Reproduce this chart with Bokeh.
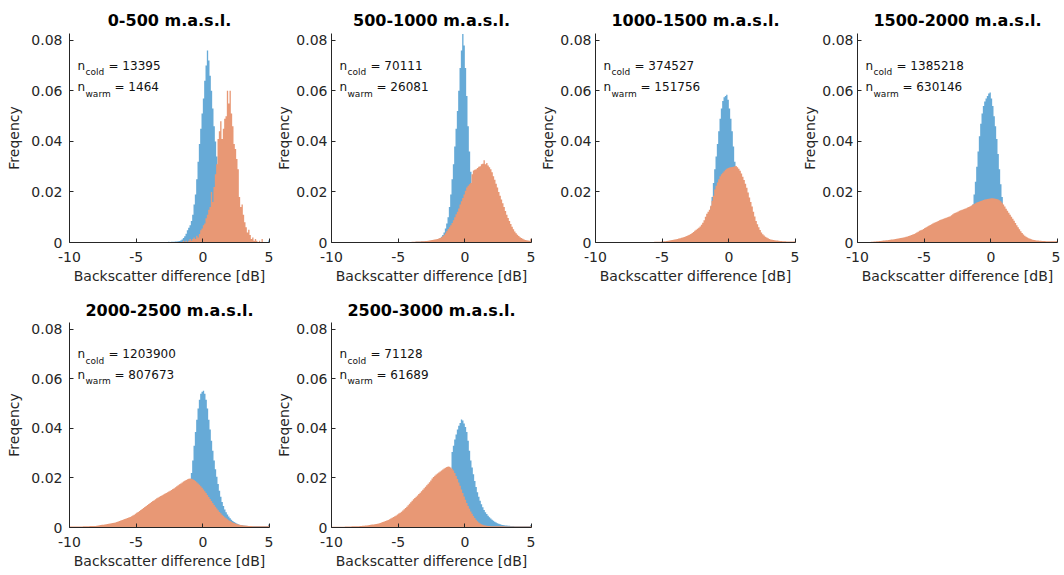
from bokeh.plotting import figure
from bokeh.layouts import column, row
from bokeh.models import FixedTicker, Range1d, CustomJSTickFormatter
from bokeh.core.properties import value
from bokeh.embed import file_html
from bokeh.resources import INLINE

# ---------------- data ----------------
BIN_WIDTH = 0.1
TITLES = ["0-500 m.a.s.l.", "500-1000 m.a.s.l.", "1000-1500 m.a.s.l.",
          "1500-2000 m.a.s.l.", "2000-2500 m.a.s.l.", "2500-3000 m.a.s.l."]
N_COLD = [13395, 70111, 374527, 1385218, 1203900, 71128]
N_WARM = [1464, 26081, 151756, 630146, 807673, 61689]
X_TICKS = [-10, -5, 0, 5]
Y_TICKS = [0, 0.02, 0.04, 0.06, 0.08]
X_LABEL = "Backscatter difference [dB]"
Y_LABEL = "Freqency"

# panel 1 (0-500)
COLD_1_START = -3.0
COLD_1 = [0.0002, 0.0002, 0.0002, 0.0002, 0.0003, 0.0002, 0.0003, 0.0003, 0.0003, 0.0004,
          0.0004, 0.0005, 0.0006, 0.0008, 0.0012, 0.0018, 0.0025, 0.0035, 0.0048, 0.0058,
          0.0068, 0.0085, 0.011, 0.015, 0.019, 0.025, 0.032, 0.039, 0.045, 0.051,
          0.057, 0.064, 0.070, 0.076, 0.072, 0.066, 0.060, 0.053, 0.046, 0.040,
          0.034, 0.028, 0.022, 0.017, 0.013, 0.010, 0.007, 0.005, 0.004, 0.003,
          0.002, 0.0015, 0.001, 0.0008, 0.0006, 0.0004, 0.0003, 0.0003, 0.0002, 0.0002,
          0.0002, 0.0002, 0.0002, 0.0002, 0.0002, 0.0002, 0.0002, 0.0002, 0.0002, 0.0002,
          0.0002, 0.0002, 0.0002, 0.0002, 0.0002, 0.0002, 0.0002, 0.0002, 0.0002, 0.0008]
WARM_1_START = -1.5
WARM_1 = [0.0007, 0.0, 0.0007, 0.0, 0.0007, 0.0014, 0.0007, 0.0014, 0.002, 0.0014,
          0.0027, 0.002, 0.0034, 0.0048, 0.0055, 0.0068, 0.0075, 0.0096, 0.011, 0.013,
          0.014, 0.020, 0.016, 0.022, 0.027, 0.031, 0.041, 0.044, 0.048, 0.041,
          0.045, 0.049, 0.050, 0.060, 0.055, 0.060, 0.051, 0.046, 0.039, 0.037,
          0.033, 0.029, 0.018, 0.014, 0.015, 0.011, 0.008, 0.006, 0.004, 0.005,
          0.003, 0.0014, 0.002, 0.0007, 0.0014, 0.0007, 0.0, 0.0007, 0.0, 0.0014,
          0.0]

# panel 2 (500-1000)
COLD_2_START = -4.0
COLD_2 = [0.0002, 0.0002, 0.0002, 0.0003, 0.0003, 0.0003, 0.0003, 0.0004, 0.0004, 0.0004,
          0.0004, 0.0004, 0.0005, 0.0005, 0.0005, 0.0005, 0.0006, 0.0007, 0.0009, 0.0011,
          0.0014, 0.0018, 0.0023, 0.003, 0.004, 0.0055, 0.0075, 0.010, 0.014, 0.019,
          0.025, 0.031, 0.038, 0.045, 0.052, 0.060, 0.069, 0.076, 0.0825, 0.078,
          0.069, 0.058, 0.046, 0.036, 0.028, 0.021, 0.016, 0.012, 0.009, 0.007,
          0.005, 0.004, 0.003, 0.0024, 0.0018, 0.0014, 0.0011, 0.0009, 0.0007, 0.0005,
          0.0004, 0.0003, 0.0003, 0.0002, 0.0002, 0.0002, 0.0002, 0.0002, 0.0002, 0.0002]
WARM_2_START = -4.0
WARM_2 = [0.0003, 0.0003, 0.0003, 0.0004, 0.0004, 0.0004, 0.0004, 0.0005, 0.0005, 0.0005,
          0.0006, 0.0006, 0.0007, 0.0008, 0.0009, 0.0010, 0.0011, 0.0012, 0.0013, 0.0014,
          0.0016, 0.0018, 0.0021, 0.0025, 0.003, 0.0037, 0.0045, 0.0053, 0.006, 0.0068,
          0.0077, 0.0088, 0.010, 0.0112, 0.0122, 0.0135, 0.015, 0.0163, 0.0176, 0.019,
          0.0205, 0.0218, 0.0225, 0.023, 0.0235, 0.027, 0.0285, 0.0288, 0.029, 0.0295,
          0.030, 0.0302, 0.031, 0.0312, 0.0325, 0.031, 0.0315, 0.0305, 0.0298, 0.029,
          0.0278, 0.0262, 0.0248, 0.0232, 0.0218, 0.020, 0.0185, 0.017, 0.0155, 0.014,
          0.0125, 0.011, 0.0097, 0.0085, 0.0073, 0.0062, 0.0052, 0.0044, 0.0037, 0.0031,
          0.0026, 0.0021, 0.0018, 0.0015, 0.0012, 0.0010, 0.0009, 0.0008, 0.0007, 0.0015]

# panel 3 (1000-1500)
COLD_3_START = -3.0
COLD_3 = [0.0006, 0.0007, 0.0008, 0.001, 0.0012, 0.0014, 0.0017, 0.002, 0.0025, 0.003,
          0.0037, 0.0045, 0.0055, 0.0068, 0.0085, 0.0108, 0.014, 0.018, 0.0235, 0.029,
          0.034, 0.039, 0.044, 0.049, 0.053, 0.056, 0.0575, 0.058, 0.0585, 0.0565,
          0.053, 0.049, 0.044, 0.038, 0.032, 0.027, 0.022, 0.018, 0.0145, 0.0115,
          0.009, 0.0072, 0.0058, 0.0046, 0.0037, 0.003, 0.0024, 0.0019, 0.0015, 0.0012,
          0.001, 0.0008, 0.0006, 0.0005, 0.0004]
WARM_3_START = -6.0
WARM_3 = [0.0002, 0.0002, 0.0002, 0.0002, 0.0003, 0.0003, 0.0003, 0.0003, 0.0003, 0.0004,
          0.0004, 0.0005, 0.0005, 0.0006, 0.0007, 0.0008, 0.0009, 0.001, 0.0011, 0.0012,
          0.0013, 0.0014, 0.0016, 0.0017, 0.0019, 0.002, 0.0022, 0.0024, 0.0026, 0.0029,
          0.0031, 0.0034, 0.0038, 0.0042, 0.0046, 0.005, 0.0054, 0.0058, 0.0063, 0.007,
          0.0078, 0.0088, 0.0102, 0.0114, 0.0122, 0.013, 0.0145, 0.0165, 0.0185, 0.021,
          0.0225, 0.0237, 0.025, 0.0262, 0.027, 0.0276, 0.0282, 0.0288, 0.0292, 0.0295,
          0.0297, 0.0298, 0.0299, 0.030, 0.0302, 0.0303, 0.0298, 0.0292, 0.0284, 0.0273,
          0.026, 0.0247, 0.0232, 0.0217, 0.0198, 0.0178, 0.016, 0.0142, 0.0122, 0.0103,
          0.0085, 0.0072, 0.006, 0.0049, 0.004, 0.0033, 0.0028, 0.0023, 0.002, 0.0017,
          0.0014, 0.0012, 0.0011, 0.001, 0.0009, 0.0008, 0.0008, 0.0007, 0.0006, 0.0006,
          0.0005, 0.0005, 0.0005, 0.0004, 0.0004, 0.0004, 0.0004, 0.0004, 0.0004, 0.0005]

# panel 4 (1500-2000)
COLD_4_START = -3.0
COLD_4 = [0.0005, 0.0006, 0.0007, 0.0008, 0.001, 0.0012, 0.0015, 0.0019, 0.0024, 0.003,
          0.0038, 0.0048, 0.006, 0.0075, 0.0093, 0.0115, 0.015, 0.019, 0.024, 0.030,
          0.036, 0.042, 0.047, 0.051, 0.054, 0.0558, 0.057, 0.058, 0.059, 0.0594,
          0.057, 0.054, 0.050, 0.046, 0.041, 0.035, 0.029, 0.023, 0.018, 0.014,
          0.011, 0.0085, 0.0065, 0.005, 0.0038, 0.0029, 0.0022, 0.0017, 0.0013, 0.001,
          0.0008, 0.0006, 0.0005, 0.0004, 0.0003]
WARM_4_START = -10.0
WARM_4 = [0.0002, 0.0002, 0.0002, 0.0002, 0.0002, 0.0002, 0.0002, 0.0002, 0.0002, 0.0002,
          0.0003, 0.0003, 0.0004, 0.0004, 0.0005, 0.0005, 0.0006, 0.0006, 0.0007, 0.0008,
          0.0008, 0.0009, 0.0009, 0.001, 0.0011, 0.0012, 0.0012, 0.0013, 0.0014, 0.0015,
          0.0016, 0.0017, 0.0018, 0.0019, 0.002, 0.0021, 0.0023, 0.0024, 0.0026, 0.0028,
          0.003, 0.0032, 0.0034, 0.0037, 0.004, 0.0043, 0.0046, 0.0048, 0.005, 0.0053,
          0.0057, 0.006, 0.0063, 0.0066, 0.0069, 0.0072, 0.0075, 0.0078, 0.008, 0.0082,
          0.0085, 0.0088, 0.009, 0.0092, 0.0094, 0.0096, 0.0098, 0.010, 0.0102, 0.0104,
          0.0108, 0.0112, 0.0116, 0.0118, 0.012, 0.0123, 0.0126, 0.0128, 0.013, 0.0132,
          0.0134, 0.0136, 0.0138, 0.014, 0.0143, 0.0146, 0.0149, 0.0152, 0.0155, 0.0158,
          0.016, 0.0162, 0.0164, 0.0166, 0.0168, 0.017, 0.0171, 0.0172, 0.0173, 0.0174,
          0.0175, 0.0175, 0.0174, 0.0173, 0.0172, 0.017, 0.0167, 0.0163, 0.0157, 0.015,
          0.0142, 0.0134, 0.0126, 0.0118, 0.011, 0.0102, 0.0094, 0.0086, 0.0077, 0.0068,
          0.006, 0.0052, 0.0045, 0.0038, 0.0032, 0.0027, 0.0023, 0.002, 0.0017, 0.0015,
          0.0013, 0.0011, 0.001, 0.0009, 0.0008, 0.0008, 0.0007, 0.0007, 0.0006, 0.0006,
          0.0006, 0.0005, 0.0005, 0.0005, 0.0005, 0.0005, 0.0005, 0.0005, 0.0005, 0.0006]

# panel 5 (2000-2500)
COLD_5_START = -3.0
COLD_5 = [0.0008, 0.0009, 0.001, 0.0012, 0.0014, 0.0016, 0.0019, 0.0022, 0.0026, 0.003,
          0.0035, 0.004, 0.0047, 0.0055, 0.0065, 0.0077, 0.009, 0.0105, 0.0125, 0.015,
          0.018, 0.022, 0.027, 0.033, 0.0385, 0.0435, 0.048, 0.0515, 0.054, 0.0548,
          0.0552, 0.054, 0.0515, 0.048, 0.0435, 0.0395, 0.035, 0.031, 0.027, 0.0235,
          0.0205, 0.0175, 0.0148, 0.0124, 0.0103, 0.0087, 0.0073, 0.0062, 0.0052, 0.0044,
          0.0037, 0.0031, 0.0026, 0.0022, 0.0019, 0.0016, 0.0013, 0.0011, 0.001, 0.0009,
          0.0008, 0.0007, 0.0007, 0.0006, 0.0006, 0.0006, 0.0005, 0.0005, 0.0005, 0.0005,
          0.0005, 0.0005, 0.0005, 0.0005, 0.0005, 0.0005, 0.0005, 0.0005, 0.0005, 0.0012]
WARM_5_START = -10.0
WARM_5 = [0.0004, 0.0004, 0.0004, 0.0004, 0.0004, 0.0004, 0.0004, 0.0004, 0.0004, 0.0004,
          0.0005, 0.0005, 0.0005, 0.0005, 0.0005, 0.0006, 0.0006, 0.0006, 0.0006, 0.0006,
          0.0007, 0.0008, 0.0009, 0.001, 0.0011, 0.0011, 0.0012, 0.0013, 0.0014, 0.0015,
          0.0016, 0.0017, 0.0018, 0.0019, 0.002, 0.0022, 0.0024, 0.0026, 0.0028, 0.003,
          0.0032, 0.0034, 0.0036, 0.0038, 0.004, 0.0042, 0.0045, 0.0048, 0.0051, 0.0055,
          0.0059, 0.0063, 0.0067, 0.0071, 0.0075, 0.0079, 0.0083, 0.0087, 0.0091, 0.0095,
          0.0099, 0.0103, 0.0107, 0.011, 0.0114, 0.0118, 0.0121, 0.0124, 0.0127, 0.013,
          0.0133, 0.0136, 0.0139, 0.0142, 0.0145, 0.0148, 0.0151, 0.0155, 0.0158, 0.0162,
          0.0166, 0.017, 0.0174, 0.0178, 0.0182, 0.0186, 0.0189, 0.0192, 0.0195, 0.0197,
          0.0198, 0.0197, 0.0195, 0.0192, 0.0188, 0.0183, 0.0178, 0.0172, 0.0166, 0.016,
          0.0153, 0.0146, 0.0139, 0.0131, 0.0123, 0.0115, 0.0107, 0.0099, 0.0091, 0.0084,
          0.0077, 0.007, 0.0063, 0.0057, 0.0051, 0.0046, 0.0041, 0.0037, 0.0033, 0.0029,
          0.0026, 0.0023, 0.002, 0.0018, 0.0016, 0.0014, 0.0012, 0.0011, 0.001, 0.0009,
          0.0008, 0.0008, 0.0007, 0.0007, 0.0006, 0.0006, 0.0006, 0.0005, 0.0005, 0.0005,
          0.0005, 0.0005, 0.0005, 0.0005, 0.0005, 0.0005, 0.0005, 0.0005, 0.0005, 0.0008]

# panel 6 (2500-3000)
COLD_6_START = -4.0
COLD_6 = [0.0006, 0.0007, 0.0008, 0.0009, 0.001, 0.0011, 0.0013, 0.0015, 0.0017, 0.0019,
          0.0022, 0.0025, 0.0028, 0.0032, 0.0036, 0.0041, 0.0046, 0.0052, 0.0058, 0.0065,
          0.0073, 0.0082, 0.0092, 0.0103, 0.0115, 0.0128, 0.0145, 0.0165, 0.019, 0.023,
          0.0305, 0.033, 0.0355, 0.0375, 0.0395, 0.041, 0.0422, 0.0436, 0.0432, 0.042,
          0.0405, 0.0385, 0.035, 0.031, 0.027, 0.0242, 0.0215, 0.0188, 0.0163, 0.0142,
          0.0124, 0.0108, 0.0094, 0.0082, 0.0071, 0.0062, 0.0054, 0.0047, 0.0041, 0.0036,
          0.0031, 0.0027, 0.0023, 0.002, 0.0017, 0.0015, 0.0013, 0.0011, 0.001, 0.0009,
          0.0008, 0.0008, 0.0007, 0.0007, 0.0006, 0.0006, 0.0006, 0.0005, 0.0005, 0.0005,
          0.0005, 0.0005, 0.0005, 0.0005, 0.0005, 0.0005, 0.0005, 0.0005, 0.0005, 0.001]
WARM_6_START = -10.0
WARM_6 = [0.0003, 0.0003, 0.0003, 0.0003, 0.0003, 0.0003, 0.0003, 0.0003, 0.0003, 0.0003,
          0.0004, 0.0004, 0.0004, 0.0004, 0.0004, 0.0005, 0.0005, 0.0005, 0.0005, 0.0005,
          0.0005, 0.0006, 0.0006, 0.0007, 0.0007, 0.0008, 0.0008, 0.0009, 0.001, 0.0011,
          0.0012, 0.0012, 0.0013, 0.0014, 0.0015, 0.0016, 0.0018, 0.002, 0.0022, 0.0024,
          0.0026, 0.0028, 0.003, 0.0033, 0.0036, 0.0039, 0.0042, 0.0045, 0.0048, 0.0052,
          0.0056, 0.006, 0.0064, 0.0069, 0.0074, 0.0079, 0.0084, 0.009, 0.0096, 0.0102,
          0.0108, 0.0114, 0.0119, 0.0124, 0.0129, 0.0135, 0.014, 0.0146, 0.0152, 0.0158,
          0.0164, 0.017, 0.0176, 0.0183, 0.019, 0.0198, 0.0204, 0.0209, 0.0214, 0.0218,
          0.0222, 0.0226, 0.023, 0.0234, 0.0238, 0.0241, 0.0244, 0.0246, 0.0245, 0.0242,
          0.0237, 0.023, 0.022, 0.0208, 0.0196, 0.0182, 0.0168, 0.0153, 0.0139, 0.0125,
          0.0112, 0.0099, 0.0087, 0.0076, 0.0065, 0.0055, 0.0046, 0.0038, 0.0031, 0.0025,
          0.002, 0.0016, 0.0013, 0.0011, 0.0009, 0.0008, 0.0007, 0.0006, 0.0006, 0.0005,
          0.0005, 0.0005, 0.0005, 0.0005, 0.0005, 0.0005, 0.0005, 0.0005, 0.0005, 0.0005,
          0.0004, 0.0004, 0.0004, 0.0004, 0.0004, 0.0004, 0.0004, 0.0004, 0.0004, 0.0004,
          0.0004, 0.0004, 0.0004, 0.0004, 0.0004, 0.0004, 0.0004, 0.0004, 0.0004, 0.0006]

PANELS = [
    (COLD_1_START, COLD_1, WARM_1_START, WARM_1),
    (COLD_2_START, COLD_2, WARM_2_START, WARM_2),
    (COLD_3_START, COLD_3, WARM_3_START, WARM_3),
    (COLD_4_START, COLD_4, WARM_4_START, WARM_4),
    (COLD_5_START, COLD_5, WARM_5_START, WARM_5),
    (COLD_6_START, COLD_6, WARM_6_START, WARM_6),
]

# ---------------- style ----------------
FONT = "DejaVu Sans"
COLD_COLOR = "#66AAD7"
WARM_COLOR = "#E89875"
AXIS_COLOR = "#262626"
Y_MAX = 0.0827
FRAME_W = 200

# (left border, right border, top border, frame height, bottom border, title standoff)
LAYOUT = [
    (69, 4, 33, 209, 45, 7),
    (56, 4, 33, 209, 45, 7),
    (60, 4, 33, 209, 45, 7),
    (56, 3, 33, 209, 45, 7),
    (69, 4, 35, 205, 46, 5),
    (56, 4, 35, 205, 46, 5),
]

ANN_X = -9.4
ANN_Y1 = 0.0700
ANN_Y2 = 0.0616
SUB_DROP = 0.0027


def edges_and_steps(start, vals):
    xs = [start + BIN_WIDTH * i for i in range(len(vals) + 1)]
    ys = list(vals) + [vals[-1]]
    return xs, ys


def make_panel(i):
    lb, rb, tb, fh, bb, tso = LAYOUT[i]
    p = figure(frame_width=FRAME_W, frame_height=fh,
               x_range=Range1d(-10, 5), y_range=Range1d(0, Y_MAX),
               output_backend="svg", toolbar_location=None,
               min_border_left=lb, min_border_right=rb,
               min_border_top=tb, min_border_bottom=bb,
               title=TITLES[i])
    p.outline_line_color = None
    p.xgrid.visible = False
    p.ygrid.visible = False
    p.background_fill_color = "white"

    cs, cv, ws, wv = PANELS[i]
    cx, cy = edges_and_steps(cs, cv)
    wx, wy = edges_and_steps(ws, wv)
    p.varea_step(x=cx, y1=[0] * len(cx), y2=cy, step_mode="after",
                 fill_color=COLD_COLOR)
    p.varea_step(x=wx, y1=[0] * len(wx), y2=wy, step_mode="after",
                 fill_color=WARM_COLOR)

    # title
    p.title.align = "center"
    p.title.text_font = FONT
    p.title.text_font_size = "16px"
    p.title.text_font_style = "bold"
    p.title.text_color = "#000000"
    p.title.standoff = tso

    # axes
    for ax in (p.xaxis[0], p.yaxis[0]):
        ax.axis_line_color = AXIS_COLOR
        ax.major_tick_line_color = AXIS_COLOR
        ax.major_tick_in = 4
        ax.major_tick_out = 0
        ax.minor_tick_line_color = None
        ax.major_label_text_font = FONT
        ax.major_label_text_font_size = "14px"
        ax.major_label_text_color = AXIS_COLOR
        ax.axis_label_text_font = FONT
        ax.axis_label_text_font_size = "14px"
        ax.axis_label_text_font_style = "normal"
        ax.axis_label_text_color = AXIS_COLOR
    p.xaxis.ticker = FixedTicker(ticks=X_TICKS)
    p.yaxis.ticker = FixedTicker(ticks=Y_TICKS)
    p.xaxis.formatter = CustomJSTickFormatter(code="return tick.toString();")
    p.yaxis.formatter = CustomJSTickFormatter(
        code="return tick == 0 ? '0' : tick.toFixed(2);")
    p.xaxis.axis_label = X_LABEL
    p.yaxis.axis_label = Y_LABEL
    p.xaxis.major_label_standoff = 9
    p.xaxis.axis_label_standoff = 3
    if lb >= 69:
        p.yaxis.major_label_standoff = 7
        p.yaxis.axis_label_standoff = 6
    else:
        p.yaxis.major_label_standoff = 4
        p.yaxis.axis_label_standoff = 1

    # annotations n_cold / n_warm
    common = dict(text_font=value(FONT), text_color="#111111",
                  text_baseline="alphabetic", text_align="left")
    p.text(x=[ANN_X, ANN_X], y=[ANN_Y1, ANN_Y2], text=["n", "n"],
           text_font_size="12px", **common)
    p.text(x=[ANN_X], y=[ANN_Y1 - SUB_DROP], text=["cold"], x_offset=8,
           text_font_size="9px", **common)
    p.text(x=[ANN_X], y=[ANN_Y2 - SUB_DROP], text=["warm"], x_offset=8,
           text_font_size="9px", **common)
    p.text(x=[ANN_X], y=[ANN_Y1], text=["= %d" % N_COLD[i]], x_offset=31,
           text_font_size="12px", **common)
    p.text(x=[ANN_X], y=[ANN_Y2], text=["= %d" % N_WARM[i]], x_offset=37,
           text_font_size="12px", **common)
    return p


plots = [make_panel(i) for i in range(6)]
layout = column(row(*plots[:4]), row(*plots[4:]))

open("out.html", "w").write(file_html(layout, INLINE))
